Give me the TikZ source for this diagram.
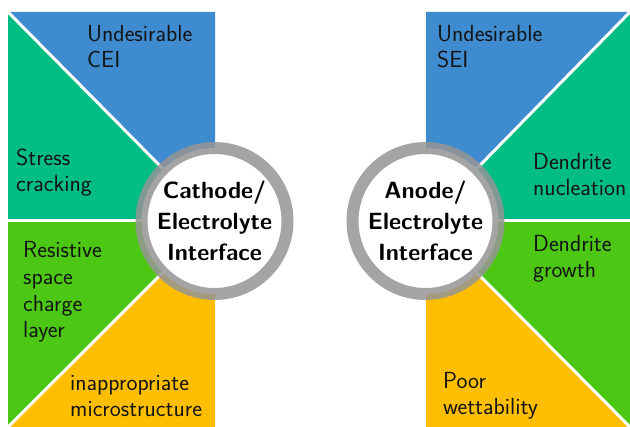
\documentclass[tikz,border=0pt]{standalone}
\usepackage{tikz}
\definecolor{cblue}{HTML}{3F8BD0}
\definecolor{cteal}{HTML}{00BD84}
\definecolor{cgreen}{HTML}{4CC814}
\definecolor{corange}{HTML}{FFBF00}
\definecolor{cring}{HTML}{959595}
\definecolor{ctext}{HTML}{141414}
\begin{document}
\begin{tikzpicture}[x=1pt,y=-1pt,
  lbl/.style={anchor=base west,inner sep=0pt,align=left,text=ctext,
    font=\sffamily\fontsize{23.3}{26.8}\selectfont},
  title/.style={align=center,inner sep=0pt,text=black,
    font=\sffamily\bfseries\fontsize{23.5}{31}\selectfont},
  sep/.style={white,line width=3pt},
  ring/.style={draw=cring,draw opacity=0.85,line width=12pt,fill=white}]
\useasboundingbox (0,0) rectangle (630,427);
% left panel
\coordinate (lc) at (214.5,221);
\fill[cblue] (8,12) -- (215,12) -- (215,221) -- cycle;
\fill[cteal] (8,12) -- (8,221) -- (215,221) -- cycle;
\fill[cgreen] (8,221) -- (215,221) -- (8,427) -- cycle;
\fill[corange] (8,427) -- (215,221) -- (215,427) -- cycle;
\draw[sep] (8,12) -- (lc);
\draw[sep] (8,427) -- (lc);
\draw[sep] (8,221) -- (lc);
% right panel
\coordinate (rc) at (425.5,221);
\fill[cblue] (426,12) -- (630,12) -- (426,221) -- cycle;
\fill[cteal] (630,12) -- (630,221) -- (426,221) -- cycle;
\fill[cgreen] (426,221) -- (630,221) -- (630,427) -- cycle;
\fill[corange] (426,221) -- (630,427) -- (426,427) -- cycle;
\draw[sep] (630,12) -- (rc);
\draw[sep] (630,427) -- (rc);
\draw[sep] (630,221) -- (rc);
% rings
\draw[ring] (lc) circle[radius=73];
\draw[ring] (rc) circle[radius=73];
\node[title] (tl) at (lc) {Cathode/\\Electrolyte\\Interface};
\node[title] (tr) at (rc) {Anode/\\Electrolyte\\Interface};
% labels left (anchor = baseline of last line)
\node[lbl] (l1) at (87,68) {Undesirable\\CEI};
\node[lbl] (l2) at (16,192) {Stress\\cracking};
\node[lbl] (l3) at (23,338) {Resistive\\space\\charge\\layer};
\node[lbl] (l4) at (70,417) {inappropriate\\microstructure};
% labels right
\node[lbl] (r1) at (437,68) {Undesirable\\SEI};
\node[lbl] (r2) at (533,196) {Dendrite\\nucleation};
\node[lbl] (r3) at (533,278) {Dendrite\\growth};
\node[lbl] (r4) at (443,415) {Poor\\wettability};
\end{tikzpicture}
\end{document}
